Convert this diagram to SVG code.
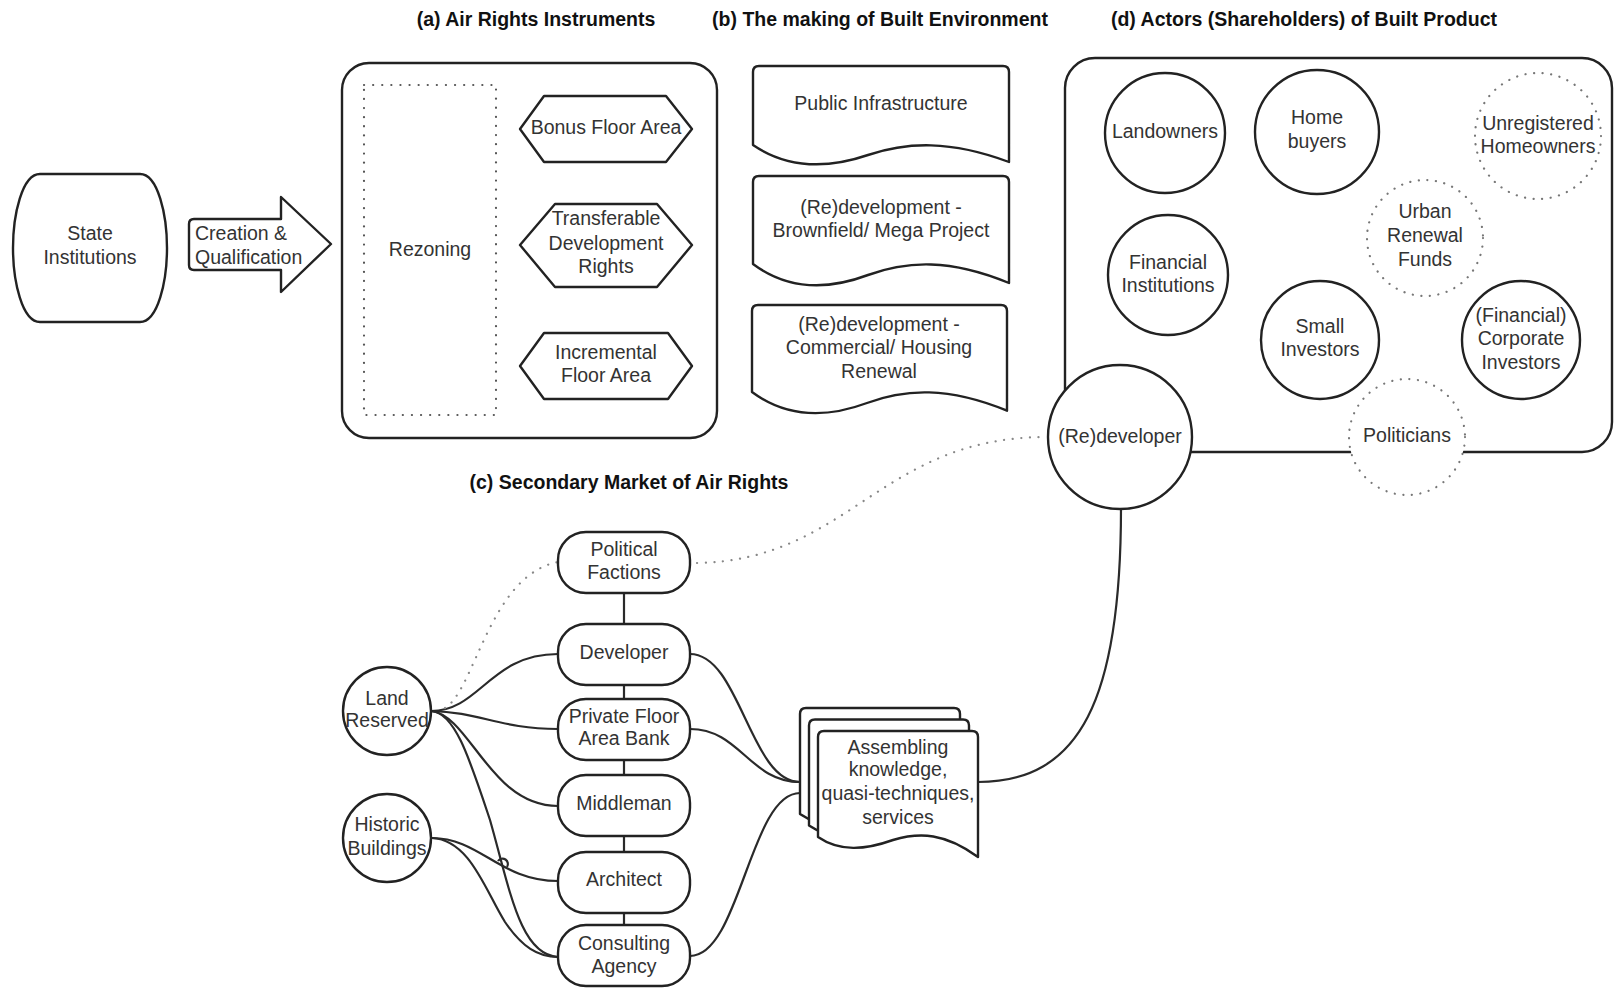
<svg xmlns="http://www.w3.org/2000/svg" width="1616" height="988" viewBox="0 0 1616 988">
  <style>
    text { font-family: "Liberation Sans", Arial, Helvetica, sans-serif; font-size: 19.5px; fill: #333; text-anchor: middle; }
    .title { font-weight: bold; fill: #111; }
    .left { text-anchor: start; }
    .shape { fill: #fff; stroke: #222; stroke-width: 2.4; stroke-linejoin: round; }
    .dotted { fill: #fff; stroke: #777; stroke-width: 2.2; stroke-dasharray: 0.1 8.5; stroke-linecap: round; }
    .dotframe { fill: none; stroke: #555; stroke-width: 2.2; stroke-dasharray: 0.1 9; stroke-linecap: round; }
    .link { fill: none; stroke: #2a2a2a; stroke-width: 2.2; }
    .dlink { fill: none; stroke: #888; stroke-width: 2.2; stroke-dasharray: 0.1 8.5; stroke-linecap: round; }
  </style>
  <defs>
    <!-- one sheet of the stacked document -->
    <path id="sheet" d="M818,837 V737 Q818,731 824,731 H972 Q978,731 978,737 V857 C945,833 920,832 893,840 C865,850 840,852 818,837 Z"/>
  </defs>

  <rect width="1616" height="988" fill="#fff"/>

  <!-- section headings -->
  <g id="headings">
    <text class="title" x="536" y="26">(a) Air Rights Instruments</text>
    <text class="title" x="880" y="26">(b) The making of Built Environment</text>
    <text class="title" x="1304" y="26">(d) Actors (Shareholders) of Built Product</text>
    <text class="title" x="629" y="489">(c) Secondary Market of Air Rights</text>
  </g>

  <!-- connectors -->
  <g id="connectors">
    <!-- Land Reserved -->
    <path class="link" d="M431,711 C480,711 490,654 558,654"/>
    <path class="link" d="M431,711 C480,712 500,729 558,729"/>
    <path class="link" d="M431,711 C470,715 490,806 558,806"/>
    <path class="link" d="M431,711 C455,712 470,760 490,820 C510,890 520,955 558,957"/>
    <path class="dlink" d="M445,708 C475,690 490,575 558,562"/>
    <!-- Historic Buildings -->
    <path class="link" d="M432,838 C480,838 500,881 558,881"/>
    <path class="link" d="M498,861 a5,5 0 0 1 9,6"/>
    <path class="link" d="M432,838 C470,840 485,890 505,922 C522,947 538,957 558,957"/>
    <!-- vertical chain -->
    <path class="link" d="M624,593 V624 M624,685 V699 M624,760 V775 M624,836 V852 M624,913 V925"/>
    <!-- into the document stack -->
    <path class="link" d="M690,654 C740,654 750,782 800,782"/>
    <path class="link" d="M690,729 C740,729 750,782 800,782"/>
    <path class="link" d="M690,956 C740,956 750,793 800,793"/>
    <!-- stack to (Re)developer -->
    <path class="link" d="M978,782 C1080,782 1121,700 1121,508"/>
    <!-- Political Factions to (Re)developer -->
    <path class="dlink" d="M697,563 C850,560 880,437 1047,437"/>
  </g>

  <!-- left column -->
  <g id="state-institutions">
    <path class="shape" d="M40,174 H140 C158,174 167,215 167,248 C167,281 158,322 140,322 H40 C22,322 13,281 13,248 C13,215 22,174 40,174 Z"/>
    <text x="90" y="240">State</text>
    <text x="90" y="264">Institutions</text>
  </g>
  <g id="creation-arrow">
    <path class="shape" d="M194,219 H281 V197 L331,244 L281,292 V270 H194 Q189,270 189,265 V224 Q189,219 194,219 Z"/>
    <text class="left" x="195" y="240">Creation &amp;</text>
    <text class="left" x="195" y="264">Qualification</text>
  </g>

  <!-- (a) air rights instruments -->
  <g id="air-rights-frame">
    <rect class="shape" x="342" y="63" width="375" height="375" rx="27"/>
  </g>
  <g id="rezoning">
    <rect class="dotframe" x="364" y="85" width="132" height="330"/>
    <text x="430" y="256">Rezoning</text>
  </g>
  <g id="bonus-floor-area">
    <path class="shape" d="M520,129 L544,96 H666 L692,129 L666,162 H544 Z"/>
    <text x="606" y="134">Bonus Floor Area</text>
  </g>
  <g id="tdr">
    <path class="shape" d="M520,245 L555,204 H657 L692,245 L657,287 H555 Z"/>
    <text x="606" y="225">Transferable</text>
    <text x="606" y="250">Development</text>
    <text x="606" y="273">Rights</text>
  </g>
  <g id="incremental-floor-area">
    <path class="shape" d="M520,366 L544,333 H668 L692,366 L668,399 H544 Z"/>
    <text x="606" y="359">Incremental</text>
    <text x="606" y="382">Floor Area</text>
  </g>

  <!-- (b) built environment -->
  <g id="public-infrastructure">
    <path class="shape" d="M753,145 V72 Q753,66 759,66 H1003 Q1009,66 1009,72 V162 C950,140 907,142 868,155 C830,168 790,170 753,145 Z"/>
    <text x="881" y="110">Public Infrastructure</text>
  </g>
  <g id="brownfield">
    <path class="shape" d="M753,264 V182 Q753,176 759,176 H1003 Q1009,176 1009,182 V283 C950,258.5 907,260.7 868,275 C830,289.3 790,291.5 753,264 Z"/>
    <text x="881" y="214">(Re)development -</text>
    <text x="881" y="237">Brownfield/ Mega Project</text>
  </g>
  <g id="housing-renewal">
    <path class="shape" d="M752,392 V311 Q752,305 758,305 H1001 Q1007,305 1007,311 V410.7 C948,386.5 905,388.7 867,403 C828.5,417.3 789,419.5 752,392 Z"/>
    <text x="879" y="331">(Re)development -</text>
    <text x="879" y="354">Commercial/ Housing</text>
    <text x="879" y="378">Renewal</text>
  </g>

  <!-- (d) actors -->
  <g id="actors-frame">
    <rect class="shape" x="1065" y="58" width="547" height="394" rx="30"/>
  </g>
  <g id="landowners">
    <circle class="shape" cx="1165" cy="133" r="60"/>
    <text x="1165" y="138">Landowners</text>
  </g>
  <g id="home-buyers">
    <circle class="shape" cx="1317" cy="132" r="62"/>
    <text x="1317" y="124">Home</text>
    <text x="1317" y="148">buyers</text>
  </g>
  <g id="unregistered-homeowners">
    <circle class="dotted" cx="1538" cy="136" r="63"/>
    <text x="1538" y="130">Unregistered</text>
    <text x="1538" y="153">Homeowners</text>
  </g>
  <g id="urban-renewal-funds">
    <circle class="dotted" cx="1425" cy="238" r="58"/>
    <text x="1425" y="218">Urban</text>
    <text x="1425" y="242">Renewal</text>
    <text x="1425" y="266">Funds</text>
  </g>
  <g id="financial-institutions">
    <circle class="shape" cx="1168" cy="275" r="60"/>
    <text x="1168" y="269">Financial</text>
    <text x="1168" y="292">Institutions</text>
  </g>
  <g id="small-investors">
    <circle class="shape" cx="1320" cy="340" r="59"/>
    <text x="1320" y="333">Small</text>
    <text x="1320" y="356">Investors</text>
  </g>
  <g id="corporate-investors">
    <circle class="shape" cx="1521" cy="340" r="59"/>
    <text x="1521" y="322">(Financial)</text>
    <text x="1521" y="345">Corporate</text>
    <text x="1521" y="369">Investors</text>
  </g>
  <g id="politicians">
    <circle class="dotted" cx="1407" cy="437" r="58"/>
    <text x="1407" y="442">Politicians</text>
  </g>
  <g id="redeveloper">
    <circle class="shape" cx="1120" cy="437" r="72"/>
    <text x="1120" y="443">(Re)developer</text>
  </g>

  <!-- (c) secondary market -->
  <g id="political-factions">
    <rect class="shape" x="558" y="532" width="132" height="61" rx="28"/>
    <text x="624" y="556">Political</text>
    <text x="624" y="579">Factions</text>
  </g>
  <g id="developer">
    <rect class="shape" x="558" y="624" width="132" height="61" rx="28"/>
    <text x="624" y="659">Developer</text>
  </g>
  <g id="private-floor-area-bank">
    <rect class="shape" x="558" y="699" width="132" height="61" rx="28"/>
    <text x="624" y="723">Private Floor</text>
    <text x="624" y="745">Area Bank</text>
  </g>
  <g id="middleman">
    <rect class="shape" x="558" y="775" width="132" height="61" rx="28"/>
    <text x="624" y="810">Middleman</text>
  </g>
  <g id="architect">
    <rect class="shape" x="558" y="852" width="132" height="61" rx="28"/>
    <text x="624" y="886">Architect</text>
  </g>
  <g id="consulting-agency">
    <rect class="shape" x="558" y="925" width="132" height="61" rx="28"/>
    <text x="624" y="950">Consulting</text>
    <text x="624" y="973">Agency</text>
  </g>
  <g id="land-reserved">
    <circle class="shape" cx="387" cy="711" r="44"/>
    <text x="387" y="705">Land</text>
    <text x="387" y="727">Reserved</text>
  </g>
  <g id="historic-buildings">
    <circle class="shape" cx="387" cy="838" r="44"/>
    <text x="387" y="831">Historic</text>
    <text x="387" y="855">Buildings</text>
  </g>
  <g id="assembling-knowledge">
    <use href="#sheet" class="shape" transform="translate(-18,-23)"/>
    <use href="#sheet" class="shape" transform="translate(-9,-11.5)"/>
    <use href="#sheet" class="shape"/>
    <text x="898" y="754">Assembling</text>
    <text x="898" y="776">knowledge,</text>
    <text x="898" y="800">quasi-techniques,</text>
    <text x="898" y="824">services</text>
  </g>
</svg>
